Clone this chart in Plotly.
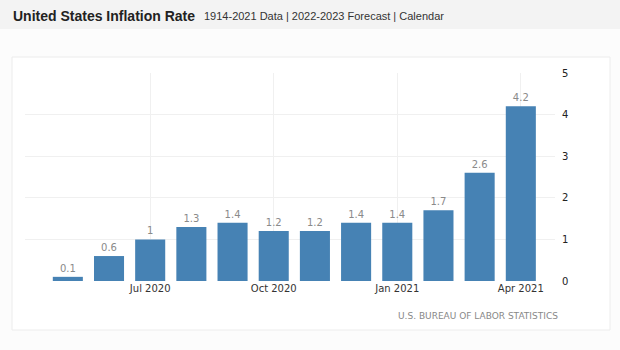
import plotly.graph_objects as go

months = ["May 2020", "Jun 2020", "Jul 2020", "Aug 2020", "Sep 2020", "Oct 2020",
          "Nov 2020", "Dec 2020", "Jan 2021", "Feb 2021", "Mar 2021", "Apr 2021"]
inflation = [0.1, 0.6, 1.0, 1.3, 1.4, 1.2, 1.2, 1.4, 1.4, 1.7, 2.6, 4.2]
xticks = ["Jul 2020", "Oct 2020", "Jan 2021", "Apr 2021"]
yticks = [0, 1, 2, 3, 4, 5]

fig = go.Figure()
fig.add_trace(go.Bar(
    x=months, y=inflation,
    marker=dict(color="#4682B4", line=dict(width=0)),
    text=[f"{v:g}" for v in inflation],
    textposition="outside",
    textfont=dict(family="DejaVu Sans", size=10, color="#8a8a8a"),
    cliponaxis=False,
))

fig.update_layout(
    width=620, height=350,
    margin=dict(l=25, r=65, t=73, b=69),
    paper_bgcolor="#fcfcfc",
    plot_bgcolor="rgba(0,0,0,0)",
    bargap=0.27,
    showlegend=False,
    xaxis=dict(
        type="category",
        range=[-1.04, 11.83],
        tickmode="array", tickvals=xticks, ticktext=xticks,
        showgrid=True, gridcolor="#f0f0f0", gridwidth=1,
        ticks="", showline=False, zeroline=False,
        tickfont=dict(family="DejaVu Sans", size=10, color="#333333"),
    ),
    yaxis=dict(
        side="right", range=[0, 5],
        tickmode="array", tickvals=yticks,
        showgrid=True, gridcolor="#f0f0f0", gridwidth=1,
        zeroline=False, showline=False, ticks="",
        ticklabelstandoff=6,
        tickfont=dict(family="DejaVu Sans", size=10, color="#222222"),
    ),
    shapes=[
        dict(type="rect", xref="paper", yref="paper",
             x0=-25/530, x1=1 + 65/530, y0=1 + 44/208, y1=1 + 73/208,
             fillcolor="#f3f3f3", line=dict(width=0), layer="below"),
        dict(type="rect", xref="paper", yref="paper",
             x0=-13/530, x1=1 + 55/530, y0=-49/208, y1=1 + 16/208,
             fillcolor="white", line=dict(color="#ececec", width=1), layer="below"),
    ],
    annotations=[
        dict(xref="paper", yref="paper", x=-14/530, y=1 + 57/208,
             xanchor="left", yanchor="middle", showarrow=False,
             text="<b>United States Inflation Rate</b>",
             font=dict(family="Liberation Sans", size=14, color="#222222")),
        dict(xref="paper", yref="paper", x=177/530, y=1 + 57/208,
             xanchor="left", yanchor="middle", showarrow=False,
             text="1914-2021 Data | 2022-2023 Forecast | Calendar",
             font=dict(family="Liberation Sans", size=11, color="#333333")),
        dict(xref="paper", yref="paper", x=1 + 5/530, y=-35/208,
             xanchor="right", yanchor="middle", showarrow=False,
             text="U.S. BUREAU OF LABOR STATISTICS",
             font=dict(family="DejaVu Sans", size=9, color="#888888")),
    ],
)

fig.write_html("out.html")
